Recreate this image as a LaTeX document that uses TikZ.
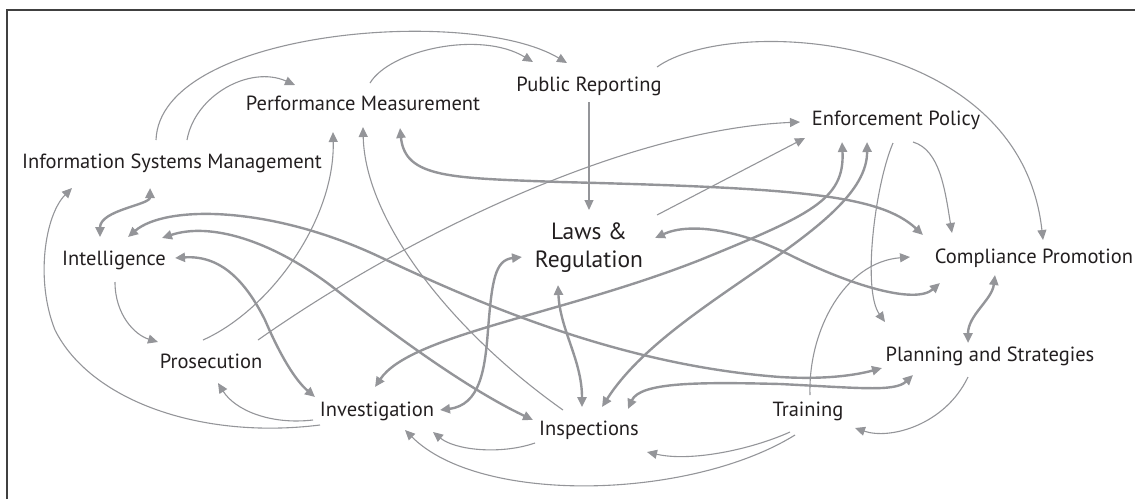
\documentclass[tikz,border=0pt]{standalone}
\usepackage{fontspec}
\setmainfont{PT Sans}
\usetikzlibrary{arrows.meta,calc}
\definecolor{gristrait}{RGB}{148,149,153}
\definecolor{gristexte}{RGB}{35,31,32}
\begin{document}
\begin{tikzpicture}[x=1pt,y=-1pt]
\tikzset{etiq/.style={anchor=base, text=gristexte, font=\fontsize{20.5}{24}\selectfont, inner sep=0pt}}
\tikzset{fin/.style={draw=gristrait, line width=1.1pt, -{Triangle[length=10pt,width=9pt]}}}
\tikzset{epais/.style={draw=gristrait, line width=2.4pt, {Triangle[length=10pt,width=9pt]}-{Triangle[length=10pt,width=9pt]}}}
\useasboundingbox (0,0) rectangle (1135,499);
\draw[black!75, line width=1.5pt] (7,499) -- (7,10) -- (1135,10);
\node[etiq] (ISM) at (172,168) {Information Systems Management};
\node[etiq] (PM) at (363,110) {Performance Measurement};
\node[etiq] (PR) at (589,91) {Public Reporting};
\node[etiq] (EP) at (896,125) {Enforcement Policy};
\node[etiq, anchor=center, align=center, font=\fontsize{23.5}{28}\selectfont] (LR) at (589,248) {Laws \&\\Regulation};
\node[etiq] (CP) at (1034,263) {Compliance Promotion};
\node[etiq] (INT) at (114,265) {Intelligence};
\node[etiq] (PRO) at (211,368) {Prosecution};
\node[etiq] (INV) at (377,416) {Investigation};
\node[etiq] (INS) at (589,435) {Inspections};
\node[etiq] (TRA) at (808,416) {Training};
\node[etiq] (PS) at (990,361) {Planning and Strategies};
% fleches fines
\draw[fin] ($(ISM.base)+(-16,-28)$) .. controls (160,30) and (470,5) .. ($(PR.base)+(-22,-28)$);
\draw[fin] ($(ISM.base)+(15,-28)$) .. controls (195,95) and (250,65) .. ($(PM.base)+(-68,-25)$);
\draw[fin] ($(PM.base)+(7,-27)$) .. controls (390,50) and (480,30) .. ($(PR.base)+(-56,-29)$);
\draw[fin] ($(PR.base)+(68,-24)$) .. controls (730,15) and (1020,30) .. ($(CP.base)+(9,-23)$);
\draw[fin] ($(PR.base)+(0,11)$) -- ($(LR.center)+(0,-38)$);
\draw[fin] ($(EP.base)+(17,17)$) .. controls (940,150) and (945,190) .. ($(CP.base)+(-82,-30)$);
\draw[fin] ($(EP.base)+(-3,18)$) .. controls (875,185) and (862,290) .. ($(PS.base)+(-105,-39)$);
\draw[fin] ($(PRO.base)+(47,-28)$) .. controls (400,240) and (620,130) .. ($(EP.base)+(-96,-3)$);
\draw[fin] ($(PRO.base)+(-8,-28)$) .. controls (270,310) and (335,220) .. ($(PM.base)+(-30,22)$);
\draw[fin] ($(LR.center)+(68,-33)$) -- ($(EP.base)+(-91,13)$);
\draw[fin] ($(INS.base)+(-26,-25)$) .. controls (450,330) and (365,220) .. ($(PM.base)+(0,17)$);
\draw[fin] ($(INV.base)+(-57,9)$) .. controls (200,440) and (90,400) .. (55,330) .. controls (35,280) and (45,215) .. ($(ISM.base)+(-100,20)$);
\draw[fin] ($(INT.base)+(1,17)$) .. controls (115,315) and (135,335) .. ($(PRO.base)+(-53,-26)$);
\draw[fin] ($(INV.base)+(-64,4)$) .. controls (270,425) and (235,410) .. ($(PRO.base)+(7,15)$);
\draw[fin] ($(INS.base)+(-54,8)$) .. controls (500,455) and (455,450) .. ($(INV.base)+(56,16)$);
\draw[fin] ($(TRA.base)+(-13,19)$) .. controls (690,500) and (480,505) .. ($(INV.base)+(28,14)$);
\draw[fin] ($(TRA.base)+(-18,16)$) .. controls (750,450) and (690,462) .. ($(INS.base)+(58,17)$);
\draw[fin] ($(TRA.base)+(2,-21)$) .. controls (808,330) and (845,262) .. ($(CP.base)+(-124,-6)$);
\draw[fin] ($(PS.base)+(-22,16)$) .. controls (945,425) and (890,440) .. ($(TRA.base)+(47,12)$);
% fleches doubles
\draw[epais] ($(PM.base)+(37,18)$) .. controls (405,178) and (450,178) .. (560,182) .. controls (800,188) and (880,195) .. ($(CP.base)+(-111,-28)$);
\draw[epais] ($(ISM.base)+(-22,20)$) .. controls (150,205) and (100,210) .. ($(INT.base)+(-14,-28)$);
\draw[epais] ($(INT.base)+(14,-28)$) .. controls (165,205) and (270,205) .. (380,257) .. controls (480,304) and (620,365) .. (780,377) .. controls (830,380) and (860,374) .. ($(PS.base)+(-108,7)$);
\draw[epais] ($(INT.base)+(48,-27)$) .. controls (210,222) and (270,240) .. (330,285) .. controls (400,340) and (470,390) .. ($(INS.base)+(-56,-15)$);
\draw[epais] ($(LR.center)+(66,-10)$) .. controls (690,222) and (740,230) .. (790,255) .. controls (850,285) and (915,305) .. ($(CP.base)+(-94,20)$);
\draw[epais] ($(EP.base)+(-54,17)$) .. controls (845,200) and (810,215) .. (700,260) .. controls (560,315) and (410,335) .. ($(INV.base)+(-2,-29)$);
\draw[epais] ($(EP.base)+(-29,17)$) .. controls (868,230) and (670,300) .. ($(INS.base)+(13,-28)$);
\draw[epais] ($(LR.center)+(-31,37)$) .. controls (560,330) and (582,360) .. ($(INS.base)+(-7,-28)$);
\draw[epais] ($(INV.base)+(63,-6)$) .. controls (480,405) and (485,370) .. (488,330) .. controls (492,280) and (495,260) .. ($(LR.center)+(-67,9)$);
\draw[epais] ($(INT.base)+(61,-7)$) .. controls (220,255) and (245,280) .. (265,320) .. controls (280,355) and (295,380) .. ($(INV.base)+(-62,-19)$);
\draw[epais] ($(CP.base)+(-39,12)$) .. controls (992,300) and (968,315) .. ($(PS.base)+(-22,-18)$);
\draw[epais] ($(INS.base)+(39,-26)$) .. controls (640,382) and (700,382) .. (780,384) .. controls (860,388) and (895,392) .. ($(PS.base)+(-77,14)$);
\end{tikzpicture}
\end{document}
